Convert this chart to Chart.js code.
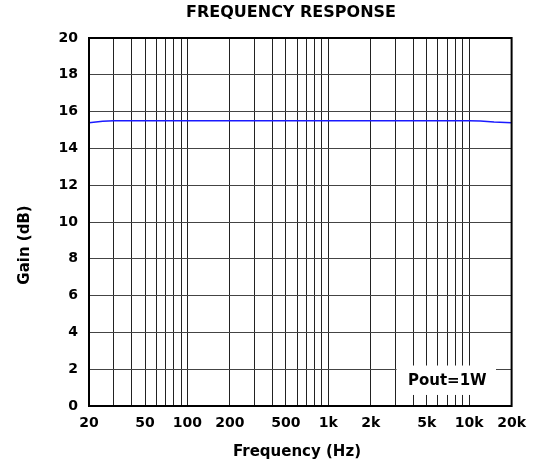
<!DOCTYPE html>
<html>
<head>
<meta charset="utf-8">
<script src="https://cdn.jsdelivr.net/npm/chart.js@4.4.1/dist/chart.umd.min.js"></script>
<style>
html,body{margin:0;padding:0;background:#fff;}
#wrap{width:535px;height:468px;position:relative;}
</style>
</head>
<body>
<div id="wrap"><canvas id="c" width="535" height="468"></canvas></div>
<script>
// Data
const frequencies = [20, 25, 30, 40, 50, 100, 200, 500, 1000, 2000, 5000, 10000, 12000, 15000, 20000];
const gainDb      = [15.4, 15.47, 15.5, 15.5, 15.5, 15.5, 15.5, 15.5, 15.5, 15.5, 15.5, 15.5, 15.49, 15.43, 15.4];
const gridFreqs = [20,30,40,50,60,70,80,90,100,200,300,400,500,600,700,800,900,1000,2000,3000,4000,5000,6000,7000,8000,9000,10000,20000];
const labeledFreqs = [20,50,100,200,500,1000,2000,5000,10000,20000];
const yTicks = [0,2,4,6,8,10,12,14,16,18,20];
const titleText = 'FREQUENCY RESPONSE';
const xTitle = 'Frequency (Hz)';
const yTitle = 'Gain (dB)';
const noteText = 'Pout=1W';

const FONT = '"DejaVu Sans", sans-serif';

function fmt(v){
  if (v >= 1000) return (v/1000) + 'k';
  return String(v);
}

const overlay = {
  id: 'overlay',
  afterDraw(chart){
    const ctx = chart.ctx;
    const xs = chart.scales.x, ys = chart.scales.y;
    const ca = chart.chartArea;
    ctx.save();
    ctx.fillStyle = '#000';
    ctx.textAlign = 'center';
    ctx.textBaseline = 'middle';
    // title
    ctx.font = 'bold 16px ' + FONT;
    ctx.fillText(titleText, 291, 13);
    // axis titles
    ctx.font = 'bold 15px ' + FONT;
    ctx.fillText(xTitle, 297, 452);
    ctx.save();
    ctx.translate(25, 245);
    ctx.rotate(-Math.PI / 2);
    ctx.fillText(yTitle, 0, 0);
    ctx.restore();
    // note box
    const x1 = xs.getPixelForValue(3050), x2 = xs.getPixelForValue(15500);
    const y1 = ys.getPixelForValue(2.2), y2 = ys.getPixelForValue(0.6);
    ctx.fillStyle = '#fff';
    ctx.fillRect(x1, y1, x2 - x1, y2 - y1);
    ctx.fillStyle = '#000';
    ctx.font = 'bold 15px ' + FONT;
    ctx.fillText(noteText, (x1 + x2)/2 + 1, (y1 + y2)/2 + 1);
    // border
    ctx.strokeStyle = '#000';
    ctx.lineWidth = 2;
    ctx.strokeRect(ca.left, ca.top, ca.right - ca.left, ca.bottom - ca.top);
    ctx.restore();
  }
};

new Chart(document.getElementById('c'), {
  type: 'line',
  data: {
    datasets: [{
      data: frequencies.map((f, i) => ({x: f, y: gainDb[i]})),
      borderColor: '#1a1aff',
      borderWidth: 1.5,
      pointRadius: 0,
      tension: 0,
      fill: false
    }]
  },
  options: {
    responsive: false,
    animation: false,
    devicePixelRatio: 1,
    layout: { padding: { left: 0, right: 21, top: 38, bottom: 0 } },
    plugins: { legend: { display: false }, tooltip: { enabled: false }, title: { display: false } },
    scales: {
      x: {
        type: 'logarithmic',
        min: 20, max: 20000,
        afterBuildTicks(scale){ scale.ticks = gridFreqs.map(v => ({value: v})); },
        afterFit(scale){ scale.height = 62; },
        ticks: {
          autoSkip: false, maxRotation: 0, padding: 9,
          color: '#000',
          font: { family: FONT, size: 14, weight: 'bold' },
          callback(v){ return labeledFreqs.includes(v) ? fmt(v) : ''; }
        },
        grid: { color: '#222', lineWidth: 1, drawTicks: false },
        border: { display: false },
        title: { display: false, text: xTitle }
      },
      y: {
        min: 0, max: 20,
        afterBuildTicks(scale){ scale.ticks = yTicks.map(v => ({value: v})); },
        afterFit(scale){ scale.width = 89; },
        ticks: {
          padding: 11, color: '#000',
          font: { family: FONT, size: 14, weight: 'bold' }
        },
        grid: { color: '#444', lineWidth: 1, drawTicks: false },
        border: { display: false },
        title: { display: false, text: yTitle }
      }
    }
  },
  plugins: [overlay]
});
</script>
</body>
</html>
